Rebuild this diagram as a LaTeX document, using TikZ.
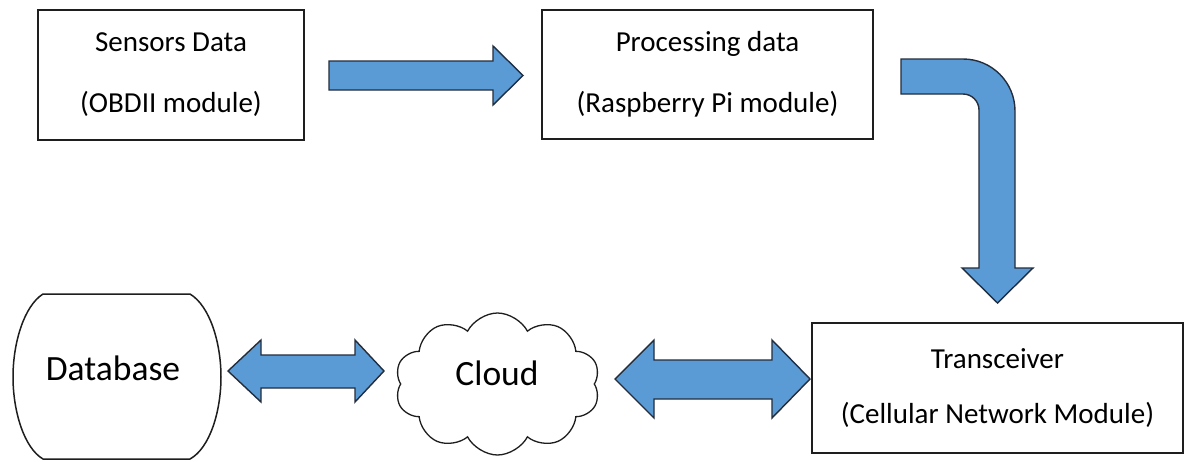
\documentclass[tikz,border=0pt]{standalone}
\usepackage{fontspec}
\setmainfont{Carlito}
\usetikzlibrary{shapes.symbols}
\definecolor{arrowblue}{RGB}{91,155,213}
\definecolor{arrowline}{RGB}{35,45,60}
\definecolor{inkline}{RGB}{30,30,30}
\begin{document}
\begin{tikzpicture}[x=1pt,y=-1pt,
  procbox/.style={draw=inkline, line width=1.8pt, fill=white, align=center,
    inner sep=0pt, font=\fontsize{29}{61}\selectfont},
  blockarrow/.style={fill=arrowblue, draw=arrowline, line width=1.4pt, line join=miter},
  bigtext/.style={font=\fontsize{35.5}{40}\selectfont, inner sep=0pt},
  outline/.style={draw=inkline, line width=1.5pt}]
\useasboundingbox[fill=white] (0,0) rectangle (1187,461);

% process boxes
\node[procbox, minimum width=266, minimum height=130] (sensors) at (171,75)
  {Sensors Data\\(OBDII module)};
\node[procbox, minimum width=331, minimum height=129] (proc) at (707.5,74.5)
  {Processing data\\(Raspberry Pi module)};
\node[procbox, minimum width=371, minimum height=130,
  font=\fontsize{29}{55}\selectfont] (trans) at (997.5,388)
  {Transceiver\\(Cellular Network Module)};

% database
\draw[outline] (43,294) -- (190,294)
  .. controls (210,306) and (221,343) .. (221,377)
  .. controls (221,411) and (210,448) .. (190,459)
  -- (43,459)
  .. controls (24,448) and (13,411) .. (13,377)
  .. controls (13,343) and (24,306) .. cycle;
\node[bigtext] (db) at (113,368) {Database};

% cloud
\node[cloud, draw=inkline, line width=1.3pt, cloud puffs=10, cloud puff arc=125,
  cloud ignores aspect, minimum width=205, minimum height=142] (cloud) at (497.5,384) {};
\node[bigtext] (cloudtxt) at (497,373) {Cloud};

% arrow sensors -> processing
\draw[blockarrow] (329,61) -- (493,61) -- (493,46) -- (523,75.5)
  -- (493,105) -- (493,90) -- (329,90) -- cycle;

% bent arrow processing -> transceiver
\draw[blockarrow] (901,59) -- (963,59) arc[start angle=-90, end angle=0, radius=52]
  -- (1015,268) -- (1033,268) -- (997.5,303) -- (962,268) -- (979,268)
  -- (979,110) arc[start angle=0, end angle=-90, radius=16] -- (901,94) -- cycle;

% double arrow database <-> cloud
\draw[blockarrow] (228,371) -- (261,340) -- (261,355) -- (355,355) -- (355,340)
  -- (384,371) -- (355,402) -- (355,388) -- (261,388) -- (261,402) -- cycle;

% double arrow cloud <-> transceiver
\draw[blockarrow] (615,379) -- (654,340) -- (654,360) -- (772,360) -- (772,340)
  -- (810,379) -- (772,418) -- (772,399) -- (654,399) -- (654,418) -- cycle;
\end{tikzpicture}
\end{document}
